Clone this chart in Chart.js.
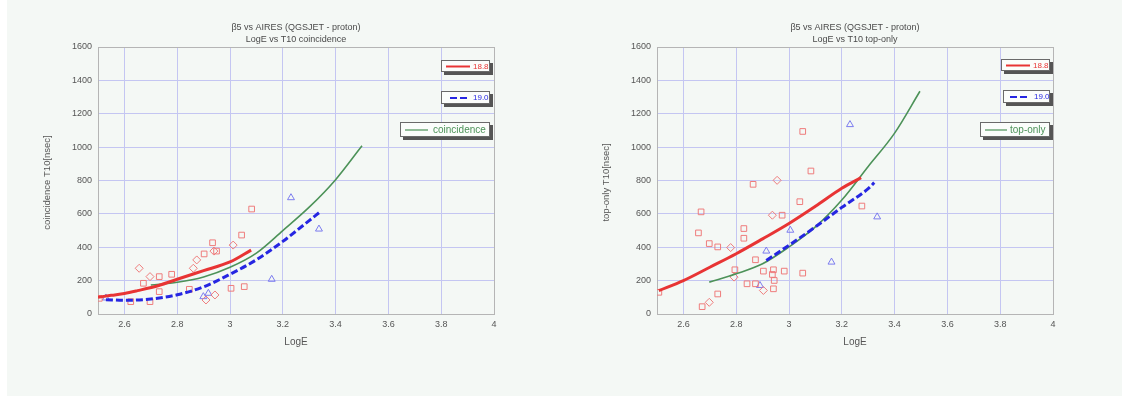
<!DOCTYPE html>
<html>
<head>
<meta charset="utf-8">
<script src="https://cdn.jsdelivr.net/npm/chart.js@4.4.1/dist/chart.umd.min.js"></script>
<style>
  html, body { margin: 0; padding: 0; background: #ffffff; }
  #page { position: absolute; left: 7px; top: 0; width: 1115px; height: 396px; background: #f4f8f5; }
  canvas { position: absolute; top: 0; }
</style>
</head>
<body>
<div id="page"></div>
<canvas id="coinChart" width="561" height="397" style="left:0px"></canvas>
<canvas id="topChart" width="561" height="397" style="left:559px"></canvas>
<script>
// ---- axis ticks ----
const logETicks = [2.6, 2.8, 3.0, 3.2, 3.4, 3.6, 3.8, 4.0];
const t10Ticks = [0, 200, 400, 600, 800, 1000, 1200, 1400, 1600];

// ---- coincidence panel: fitted curves ----
const coinFit188X = [2.50, 2.55, 2.60, 2.65, 2.73, 2.80, 2.90, 3.00, 3.08];
const coinFit188Y = [100, 112, 123, 140, 171, 208, 260, 312, 383];
const coinFit190X = [2.53, 2.60, 2.70, 2.80, 2.90, 3.00, 3.10, 3.20, 3.30, 3.337];
const coinFit190Y = [86, 82, 90, 115, 163, 238, 325, 435, 560, 607];
const coinCurveX = [2.70, 2.80, 2.90, 3.00, 3.10, 3.20, 3.30, 3.40, 3.50];
const coinCurveY = [174, 190, 222, 280, 365, 500, 640, 805, 1008];

// ---- coincidence panel: measured events ----
const coin188SqX = [2.505, 2.624, 2.672, 2.697, 2.732, 2.732, 2.779, 2.846, 2.902, 2.934, 2.949, 3.004, 3.044, 3.054, 3.082];
const coin188SqY = [94, 74, 184, 74, 224, 134, 238, 148, 360, 427, 377, 154, 473, 164, 629];
const coin188DiX = [2.656, 2.697, 2.861, 2.874, 2.909, 2.939, 2.943, 3.012];
const coin188DiY = [274, 224, 274, 324, 84, 377, 114, 413];
const coin190X = [2.53, 2.899, 2.918, 3.158, 3.231, 3.337];
const coin190Y = [96, 104, 124, 208, 697, 509];

// ---- top-only panel: fitted curves ----
const topFit188X = [2.507, 2.60, 2.70, 2.80, 2.90, 3.00, 3.10, 3.20, 3.273];
const topFit188Y = [140, 200, 280, 361, 450, 542, 645, 753, 817];
const topFit190X = [2.914, 3.00, 3.10, 3.20, 3.30, 3.323];
const topFit190Y = [321, 412, 522, 639, 751, 787];
const topCurveX = [2.698, 2.80, 2.90, 3.00, 3.10, 3.20, 3.30, 3.40, 3.496];
const topCurveY = [191, 241, 301, 402, 522, 683, 884, 1084, 1335];

// ---- top-only panel: measured events ----
const top188SqX = [2.667, 2.657, 2.698, 2.730, 2.829, 2.829, 2.864, 2.974, 3.041, 3.052, 3.083, 3.276, 3.052, 2.982, 2.941, 2.944, 2.941, 2.873, 2.841, 2.795, 2.873, 2.903, 2.730, 2.671, 2.507, 2.937];
const top188SqY = [612, 486, 422, 402, 512, 454, 777, 592, 673, 1094, 857, 647, 245, 257, 265, 201, 151, 181, 181, 265, 325, 257, 120, 44, 130, 237];
const top188DiX = [2.779, 2.955, 2.937, 2.903, 2.792, 2.698];
const top188DiY = [398, 801, 592, 141, 221, 70];
const top190X = [3.231, 3.334, 3.161, 2.914, 3.005, 2.890];
const top190Y = [1135, 582, 311, 377, 502, 171];

const FONT = "'Liberation Sans', Arial, sans-serif";
const COLORS = {
  red: 'rgb(232,52,52)',
  blue: 'rgb(38,38,226)',
  green: 'rgb(76,146,88)',
  redPt: 'rgba(238,118,118,0.95)',
  bluePt: 'rgba(118,118,238,0.95)',
  grid: 'rgba(196,198,242,1)',
  frame: '#b5b5b5',
  text: '#555555'
};

function zip(xs, ys) { return xs.map((x, i) => ({ x: x, y: ys[i] })); }

// frame, titles and boxed legend entries
const decorPlugin = {
  id: 'decor',
  beforeDatasetsDraw(chart, args, opts) {
    const a = chart.chartArea, ctx = chart.ctx;
    ctx.save();
    ctx.strokeStyle = COLORS.frame;
    ctx.lineWidth = 1;
    ctx.strokeRect(Math.round(a.left) + 0.5, Math.round(a.top) + 0.5,
                   Math.round(a.right - a.left), Math.round(a.bottom - a.top));
    ctx.restore();
  },
  afterDraw(chart, args, opts) {
    const a = chart.chartArea, ctx = chart.ctx;
    const cx = (a.left + a.right) / 2;
    ctx.save();
    ctx.fillStyle = '#4a4a4a';
    ctx.textAlign = 'center';
    ctx.textBaseline = 'middle';
    ctx.font = '9px ' + FONT;
    ctx.fillText(opts.title[0], cx, 28);
    ctx.fillText(opts.title[1], cx, 39.5);
    ctx.fillStyle = COLORS.text;
    ctx.font = '10px ' + FONT;
    ctx.fillText('LogE', cx, 342);
    ctx.save();
    ctx.translate(47, (a.top + a.bottom) / 2 + 2);
    ctx.rotate(-Math.PI / 2);
    ctx.font = '9.5px ' + FONT;
    ctx.fillText(opts.yTitle, 0, 0);
    ctx.restore();

    opts.legend.forEach(it => {
      const ds = chart.data.datasets[it.ds];
      const x = it.x, y = it.y, w = it.w, h = it.h;
      ctx.fillStyle = '#555555';
      ctx.fillRect(x + 3, y + 3, w, h);
      ctx.fillStyle = '#fbfdfb';
      ctx.fillRect(x, y, w, h);
      ctx.strokeStyle = '#6a6a6a';
      ctx.lineWidth = 1;
      ctx.strokeRect(x + 0.5, y + 0.5, w - 1, h - 1);
      const my = y + h / 2 + 0.5;
      ctx.strokeStyle = ds.borderColor;
      ctx.lineWidth = it.lw;
      ctx.setLineDash(ds.borderDash || []);
      ctx.beginPath();
      ctx.moveTo(x + it.l0, my);
      ctx.lineTo(x + it.l1, my);
      ctx.stroke();
      ctx.setLineDash([]);
      ctx.fillStyle = ds.borderColor;
      ctx.textAlign = 'left';
      ctx.font = it.fs + 'px ' + FONT;
      ctx.fillText(ds.label, x + it.tx, my);
    });
    ctx.restore();
  }
};

function buildChart(id, p) {
  const curve = (label, xs, ys, color, width, dash) => ({
    label: label, data: zip(xs, ys), showLine: true, borderColor: color,
    borderWidth: width, borderDash: dash, pointRadius: 0, fill: false,
    cubicInterpolationMode: 'monotone'
  });
  const marks = (xs, ys, style, color, radius) => ({
    label: '', data: zip(xs, ys), showLine: false, pointStyle: style,
    pointRadius: radius, borderColor: color, borderWidth: 1,
    backgroundColor: 'rgba(0,0,0,0)'
  });
  const tickFont = { family: FONT, size: 9 };
  return new Chart(document.getElementById(id), {
    type: 'scatter',
    data: {
      datasets: [
        curve('18.8', p.r.x, p.r.y, COLORS.red, 3, []),
        curve('19.0', p.b.x, p.b.y, COLORS.blue, 3, [7, 3]),
        curve(p.gLabel, p.g.x, p.g.y, COLORS.green, 1.6, []),
        marks(p.sq.x, p.sq.y, 'rect', COLORS.redPt, 4),
        marks(p.di.x, p.di.y, 'rectRot', COLORS.redPt, 4),
        marks(p.tr.x, p.tr.y, 'triangle', COLORS.bluePt, 4)
      ]
    },
    options: {
      responsive: false,
      animation: false,
      devicePixelRatio: 1,
      events: [],
      layout: { padding: { left: p.left - 40, right: 561 - p.right, top: 47, bottom: 397 - 314 - 20 } },
      plugins: {
        legend: { display: false },
        tooltip: { enabled: false },
        title: { display: false },
        decor: { title: p.title, yTitle: p.yTitle, legend: p.legend }
      },
      scales: {
        x: {
          type: 'linear', min: 2.5, max: 4,
          afterBuildTicks: s => { s.ticks = logETicks.map(v => ({ value: v })); },
          afterFit: s => { s.height = 20; },
          grid: { color: COLORS.grid, drawTicks: false },
          border: { display: false },
          ticks: { padding: 5, color: COLORS.text, font: tickFont, maxRotation: 0,
                   callback: v => String(Math.round(v * 10) / 10) }
        },
        y: {
          type: 'linear', min: 0, max: 1600,
          afterBuildTicks: s => { s.ticks = t10Ticks.map(v => ({ value: v })); },
          afterFit: s => { s.width = 40; },
          grid: { color: COLORS.grid, drawTicks: false },
          border: { display: false },
          ticks: { padding: 6, color: COLORS.text, font: tickFont, callback: v => String(v) }
        }
      }
    },
    plugins: [decorPlugin]
  });
}

buildChart('coinChart', {
  left: 98, right: 494,
  title: ['\u03b25 vs AIRES (QGSJET - proton)', 'LogE vs T10 coincidence'],
  yTitle: 'coincidence T10[nsec]',
  gLabel: 'coincidence',
  r: { x: coinFit188X, y: coinFit188Y },
  b: { x: coinFit190X, y: coinFit190Y },
  g: { x: coinCurveX, y: coinCurveY },
  sq: { x: coin188SqX, y: coin188SqY },
  di: { x: coin188DiX, y: coin188DiY },
  tr: { x: coin190X, y: coin190Y },
  legend: [
    { ds: 0, x: 441, y: 60, w: 49, h: 12, l0: 5, l1: 29, tx: 32, lw: 2, fs: 8 },
    { ds: 1, x: 441, y: 91, w: 49, h: 13, l0: 9, l1: 29, tx: 32, lw: 2, fs: 8 },
    { ds: 2, x: 400, y: 122, w: 90, h: 15, l0: 5, l1: 28, tx: 33, lw: 1.2, fs: 10 }
  ]
});

buildChart('topChart', {
  left: 98, right: 494,
  title: ['\u03b25 vs AIRES (QGSJET - proton)', 'LogE vs T10 top-only'],
  yTitle: 'top-only T10[nsec]',
  gLabel: 'top-only',
  r: { x: topFit188X, y: topFit188Y },
  b: { x: topFit190X, y: topFit190Y },
  g: { x: topCurveX, y: topCurveY },
  sq: { x: top188SqX, y: top188SqY },
  di: { x: top188DiX, y: top188DiY },
  tr: { x: top190X, y: top190Y },
  legend: [
    { ds: 0, x: 442, y: 59, w: 49, h: 12, l0: 5, l1: 29, tx: 32, lw: 2, fs: 8 },
    { ds: 1, x: 444, y: 90, w: 47, h: 13, l0: 7, l1: 27, tx: 31, lw: 2, fs: 8 },
    { ds: 2, x: 421, y: 122, w: 70, h: 15, l0: 5, l1: 27, tx: 30, lw: 1.2, fs: 10 }
  ]
});
</script>
</body>
</html>
